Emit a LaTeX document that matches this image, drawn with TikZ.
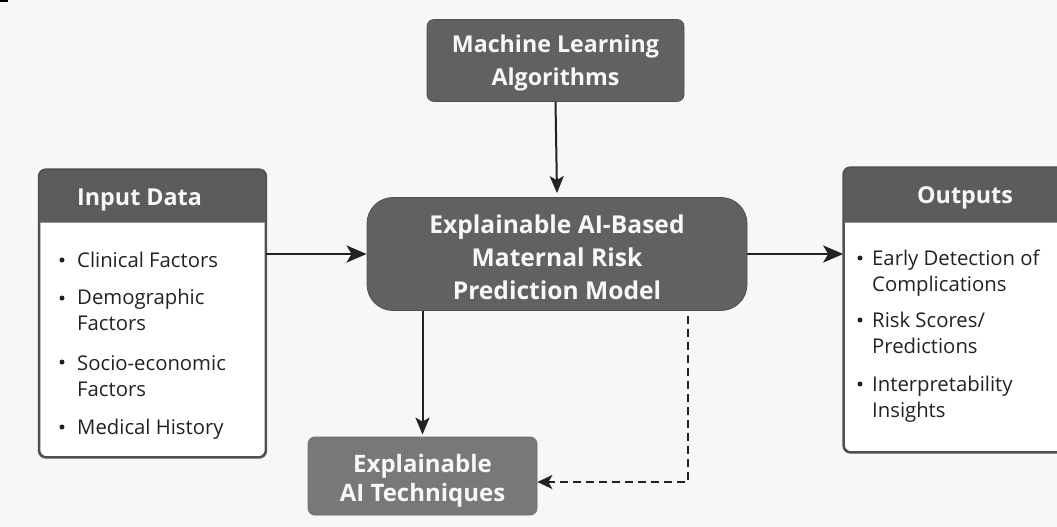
\documentclass[tikz,border=0pt]{standalone}
\usepackage{fontspec}
\setmainfont{Open Sans}
\usetikzlibrary{arrows.meta}
\definecolor{bgcol}{HTML}{F7F7F7}
\definecolor{boxdark}{HTML}{616161}
\definecolor{hdrcol}{HTML}{5C5C5C}
\definecolor{boxlight}{HTML}{787878}
\definecolor{edgecol}{HTML}{505050}
\definecolor{txtlight}{HTML}{F7F7F7}
\definecolor{txtdark}{HTML}{222222}
\definecolor{arrcol}{HTML}{222222}
\tikzset{
  darkbox/.style={fill=boxdark, draw=edgecol, line width=0.8pt, inner sep=0pt},
  boxtext/.style={text=txtlight, align=center, inner sep=0pt},
  panel/.style={fill=white, draw=edgecol, line width=1.6pt, rounded corners=7pt, inner sep=0pt},
  item/.style={anchor=west, inner sep=0pt, text=txtdark, font=\fontsize{20.3}{26}\selectfont, align=left},
  bul/.style={circle, fill=txtdark, inner sep=0pt, minimum size=5pt},
  hdrtext/.style={inner sep=0pt, text=txtlight, font=\fontsize{23.3}{26}\selectfont\bfseries},
  thickarrow/.style={draw=arrcol, line width=2.8pt, -{Stealth[length=20pt,width=17pt,inset=5pt]}},
  thinarrow/.style={draw=arrcol, line width=2pt, -{Stealth[length=17pt,width=14pt,inset=4pt]}},
  dasharrow/.style={draw=arrcol, line width=1.8pt, dash pattern=on 8pt off 5pt, -{Stealth[length=15pt,width=14pt,inset=4pt]}}
}
\begin{document}
\begin{tikzpicture}[x=1pt,y=-1pt]
\fill[bgcol] (0,0) rectangle (1057,527);
\useasboundingbox (0,0) rectangle (1057,527);
\fill[black] (0,0) rectangle (8,2.5);

% Machine learning box
\node[darkbox, rounded corners=7pt, minimum width=257pt, minimum height=82pt] (ml) at (555.5,60.5) {};
\node[boxtext, font=\fontsize{23.2}{33}\selectfont\bfseries] (mlt) at (555.5,63) {Machine Learning\\Algorithms};

% central model
\node[darkbox, rounded corners=26pt, minimum width=380pt, minimum height=113pt] (cm) at (557,254) {};
\node[boxtext, font=\fontsize{24.6}{33}\selectfont\bfseries] (cmt) at (557,257) {Explainable AI-Based\\Maternal Risk\\Prediction Model};

% XAI techniques
\node[darkbox, fill=boxlight, draw=boxlight!90!black, rounded corners=7pt, minimum width=229pt, minimum height=78pt] (xai) at (422.5,476) {};
\node[boxtext, font=\fontsize{24}{29}\selectfont\bfseries] (xait) at (422.5,480.5) {Explainable\\AI Techniques};

% Input panel
\node[panel, minimum width=226pt, minimum height=287pt] (inp) at (152.5,313.5) {};
\fill[hdrcol] (inp.west |- 0,222.5) [rounded corners=7pt] -- (inp.north west) -- (inp.north east) [sharp corners] -- (inp.east |- 0,222.5) -- cycle;
\draw[edgecol, line width=1.6pt, rounded corners=7pt] (inp.south west) rectangle (inp.north east);
\node[hdrtext, anchor=west] (inph) at (77,200) {Input Data};
\node[bul] (ib1) at (62,260) {};
\node[item] (i1) at (77,260) {Clinical Factors};
\node[bul] (ib2) at (62,298) {};
\node[item, anchor=north west] (i2) at (77,289) {Demographic\\Factors};
\node[bul] (ib3) at (62,362) {};
\node[item, anchor=north west] (i3) at (77,355) {Socio-economic\\Factors};
\node[bul] (ib4) at (62,427) {};
\node[item] (i4) at (77,429) {Medical History};

% Outputs panel
\node[panel, minimum width=246pt, minimum height=284pt] (out) at (967,310) {};
\fill[hdrcol] (out.west |- 0,222.5) [rounded corners=7pt] -- (out.north west) -- (out.north east) [sharp corners] -- (out.east |- 0,222.5) -- cycle;
\draw[edgecol, line width=1.6pt, rounded corners=7pt] (out.south west) rectangle (out.north east);
\node[hdrtext] (outh) at (965,198) {Outputs};
\node[bul] (ob1) at (860,258) {};
\node[item, anchor=north west] (o1) at (872,250) {Early Detection of\\Complications};
\node[bul] (ob2) at (860,320) {};
\node[item, anchor=north west] (o2) at (872,312) {Risk Scores/\\Predictions};
\node[bul] (ob3) at (860,384) {};
\node[item, anchor=north west] (o3) at (872,376) {Interpretability\\Insights};

% connectors
\draw[thinarrow] (ml.south) -- ([yshift=4pt]cm.north);
\draw[thickarrow] (inp.east |- cm.west) -- (cm.west);
\draw[thickarrow] (cm.east) -- (out.west |- cm.east);
\draw[thinarrow] (cm.south -| xai.north) -- ([yshift=2pt]xai.north);
\coordinate (dc) at (688,482);
\draw[dasharrow] (cm.south -| dc) ++(0,5) -- (dc) -- (xai.east |- dc);
\end{tikzpicture}
\end{document}
